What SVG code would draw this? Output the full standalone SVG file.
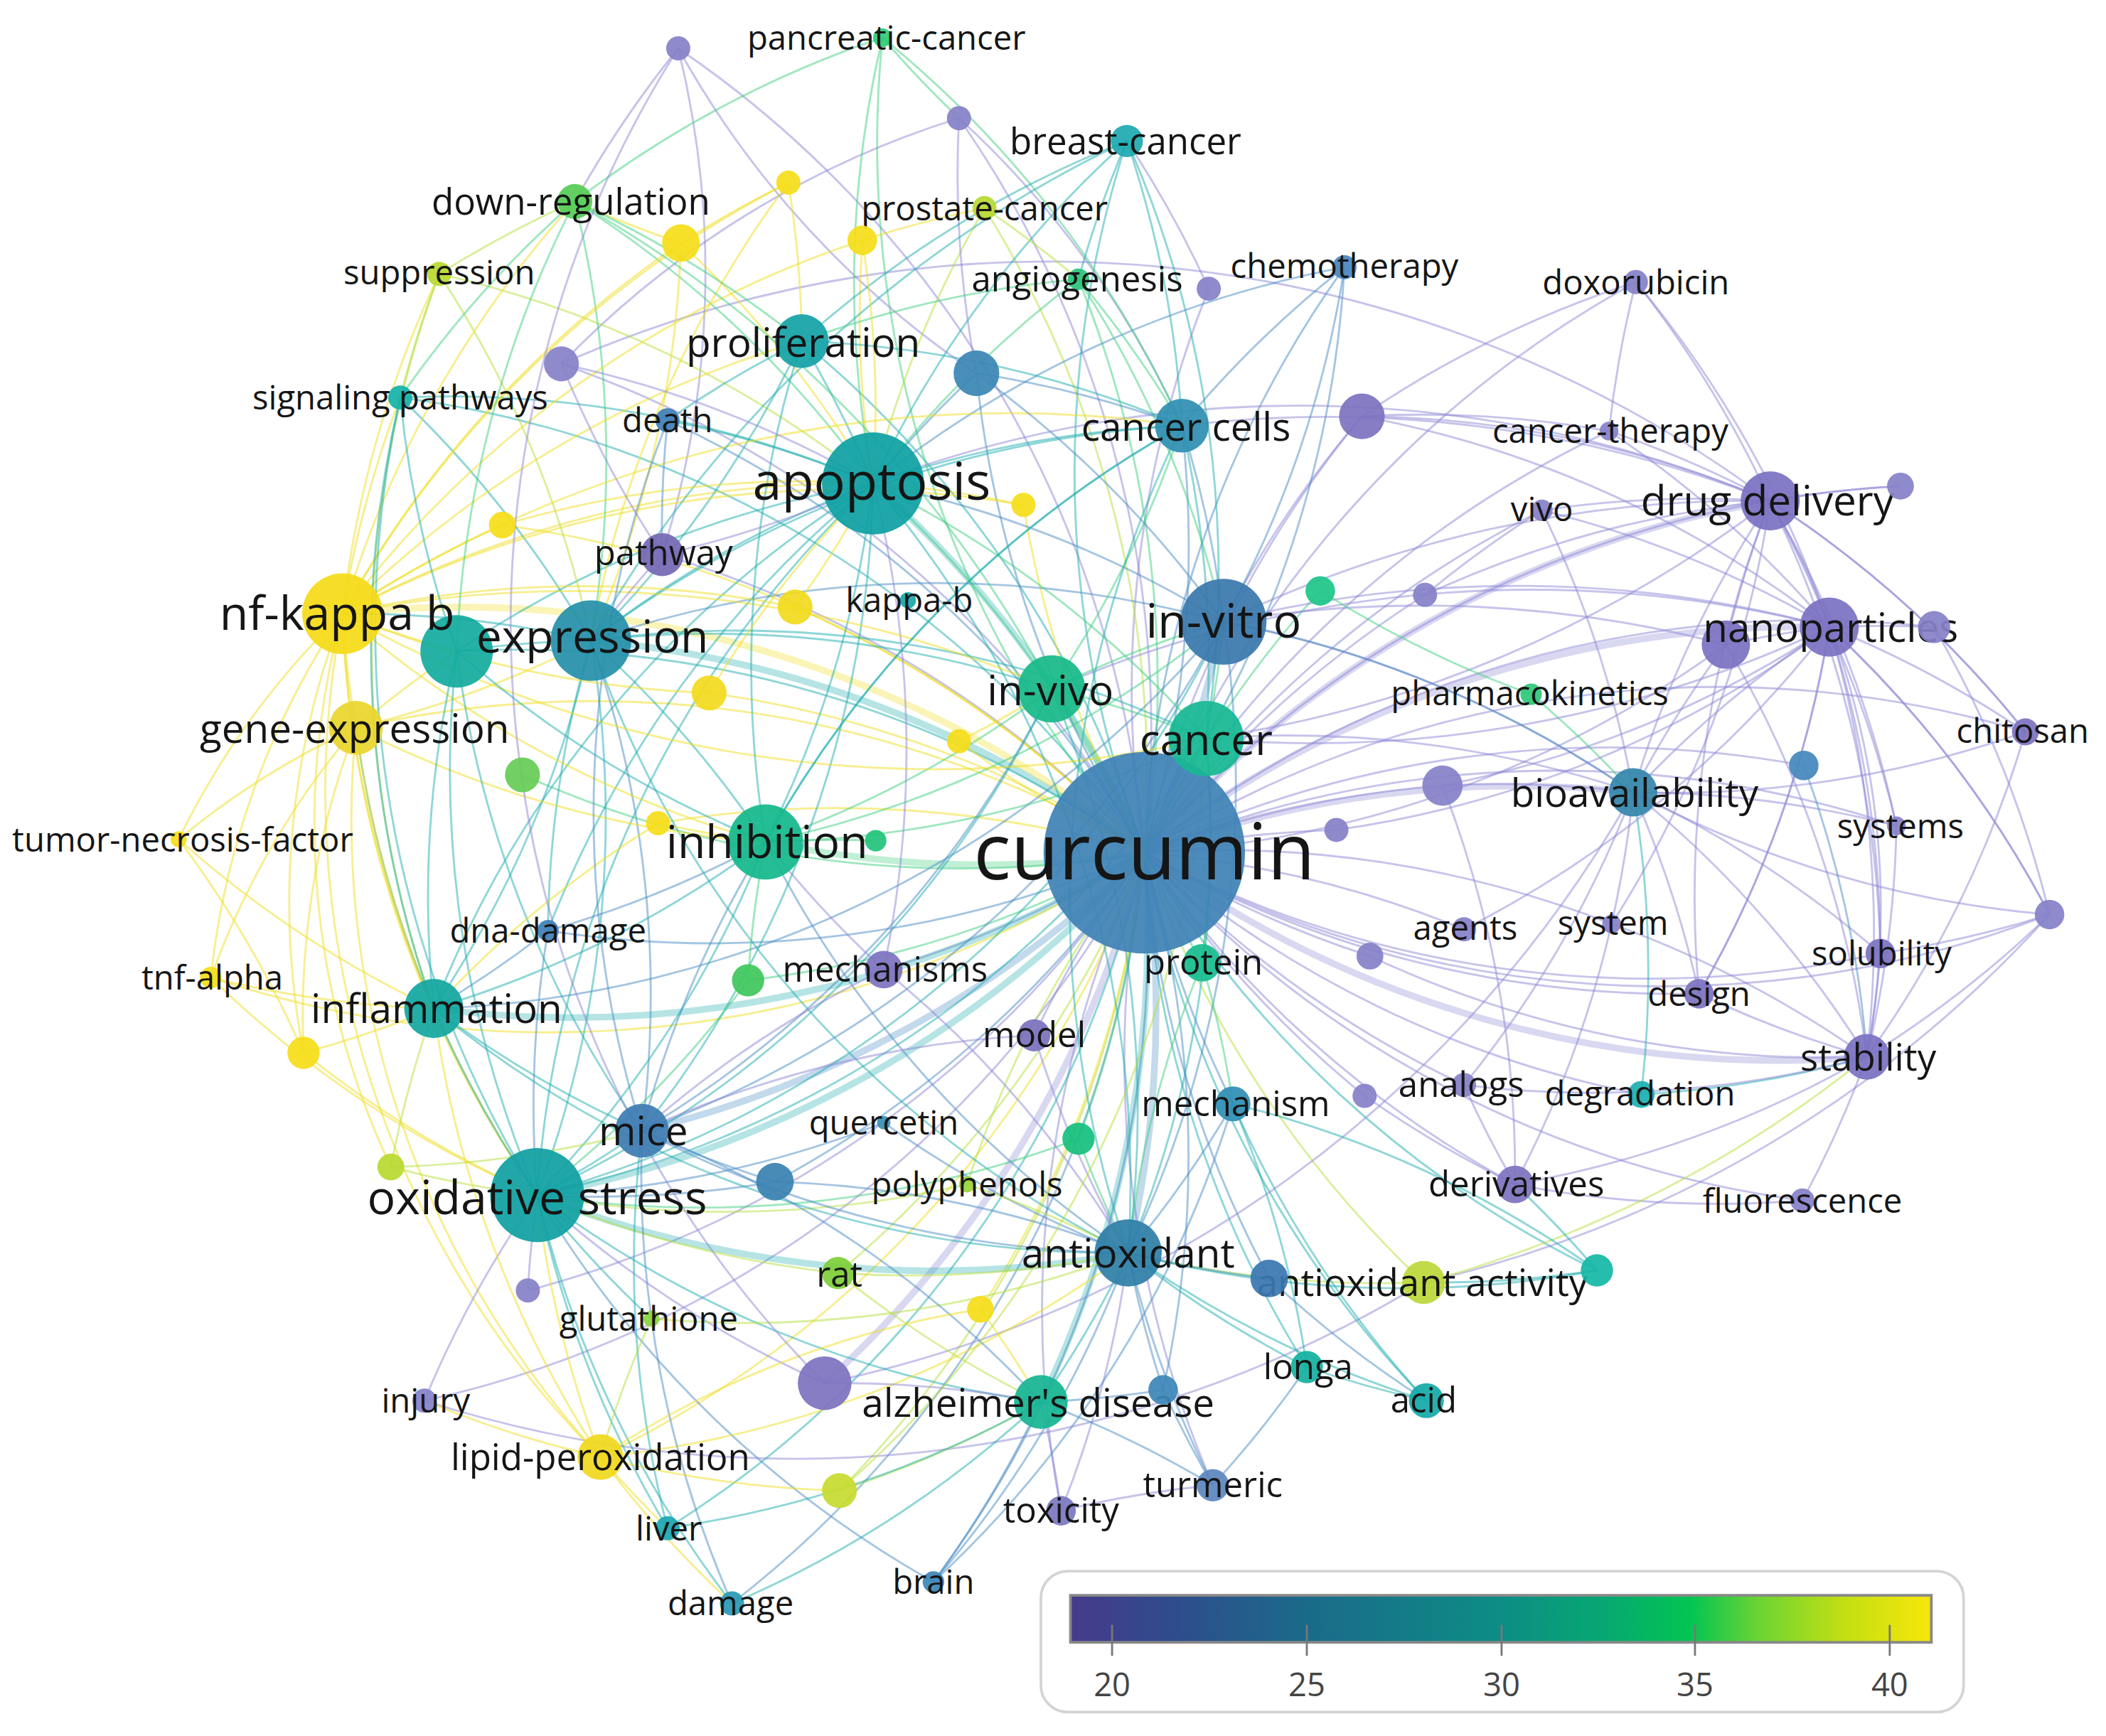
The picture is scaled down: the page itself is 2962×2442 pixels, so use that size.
<svg xmlns="http://www.w3.org/2000/svg" width="2962" height="2442" viewBox="0 0 2962 2442">
<style>
#connectors path{fill:none;stroke-width:1.5;stroke-opacity:.5}
#connectors .p{stroke:#8d88d6}
#connectors .b{stroke:#4a8cc4}
#connectors .t{stroke:#20aeb0}
#connectors .g{stroke:#3fcf80}
#connectors .y{stroke:#f0dd20}
#connectors .l{stroke:#b5df3c}
#connectors .k{stroke-width:5;stroke-opacity:.33}
#nodes circle{fill-opacity:.93}
#nodes text{font-family:"Open Sans","Noto Sans","Liberation Sans",sans-serif;fill:#151515;text-anchor:middle}
#legend text{font-family:"Open Sans","Noto Sans","Liberation Sans",sans-serif;fill:#444;text-anchor:middle;font-size:24px}
</style>
<defs>
<linearGradient id="lg" x1="0" x2="1" y1="0" y2="0">
<stop offset="0" stop-color="#463a8c"/>
<stop offset=".12" stop-color="#2f4c8c"/>
<stop offset=".27" stop-color="#1b6a8a"/>
<stop offset=".5" stop-color="#0c8d85"/>
<stop offset=".62" stop-color="#07a872"/>
<stop offset=".72" stop-color="#02c552"/>
<stop offset=".8" stop-color="#6cd433"/>
<stop offset=".9" stop-color="#c4df12"/>
<stop offset="1" stop-color="#f8e60a"/>
</linearGradient>
</defs>
<rect width="2962" height="2442" fill="#fff"/>
<g transform="scale(1.889)">
<g id="connectors">
<path class="p k" d="M852 635A800 800 0 0 1 1318 373"/>
<path class="p k" d="M852 635A800 800 0 0 1 1362 467"/>
<path class="p" d="M852 635A800 800 0 0 0 1285 480"/>
<path class="p k" d="M852 635A800 800 0 0 1 1216 590"/>
<path class="p" d="M852 635A800 800 0 0 1 1412 615"/>
<path class="p" d="M852 635A800 800 0 0 0 1400 710"/>
<path class="p k" d="M852 635A800 800 0 0 0 1390 787"/>
<path class="p" d="M852 635A800 800 0 0 0 1265 740"/>
<path class="p" d="M852 635A800 800 0 0 1 1508 545"/>
<path class="p" d="M852 635A800 800 0 0 0 1526 681"/>
<path class="p" d="M852 635A800 800 0 0 0 1128 882"/>
<path class="p" d="M852 635A800 800 0 0 0 1342 894"/>
<path class="p" d="M852 635A800 800 0 0 0 1222 815"/>
<path class="p" d="M852 635A800 800 0 0 0 1090 808"/>
<path class="p" d="M852 635A800 800 0 0 1 1090 692"/>
<path class="p" d="M852 635A800 800 0 0 1 1200 688"/>
<path class="p" d="M852 635A800 800 0 0 1 1218 210"/>
<path class="p" d="M852 635A800 800 0 0 1 1198 321"/>
<path class="p" d="M852 635A800 800 0 0 1 1148 380"/>
<path class="p" d="M852 635A800 800 0 0 1 1014 310"/>
<path class="p" d="M852 635A800 800 0 0 1 1415 362"/>
<path class="p" d="M852 635A800 800 0 0 1 1440 467"/>
<path class="p" d="M852 635A800 800 0 0 1 1074 585"/>
<path class="p" d="M852 635A800 800 0 0 1 1343 570"/>
<path class="p" d="M852 635A800 800 0 0 1 995 618"/>
<path class="p" d="M852 635A800 800 0 0 0 1020 712"/>
<path class="p" d="M852 635A800 800 0 0 0 1016 816"/>
<path class="p" d="M852 635A800 800 0 0 1 1061 443"/>
<path class="p" d="M852 635A800 800 0 0 1 658 722"/>
<path class="p" d="M852 635A800 800 0 0 0 770 771"/>
<path class="p k" d="M852 635A800 800 0 0 1 614 1030"/>
<path class="p" d="M852 635A800 800 0 0 0 790 1125"/>
<path class="p" d="M852 635A800 800 0 0 0 903 1106"/>
<path class="p" d="M852 635A800 800 0 0 1 316 1043"/>
<path class="p" d="M852 635A800 800 0 0 1 393 961"/>
<path class="p" d="M852 635A800 800 0 0 0 493 413"/>
<path class="p" d="M852 635A800 800 0 0 0 418 271"/>
<path class="p" d="M852 635A800 800 0 0 1 900 215"/>
<path class="p" d="M852 635A800 800 0 0 0 714 88"/>
<path class="p" d="M852 635A800 800 0 0 0 505 36"/>
<path class="t k" d="M852 635A800 800 0 0 0 650 360"/>
<path class="t k" d="M852 635A800 800 0 0 1 400 890"/>
<path class="b k" d="M852 635A800 800 0 0 0 911 463"/>
<path class="t k" d="M852 635A800 800 0 0 0 440 477"/>
<path class="g k" d="M852 635A800 800 0 0 1 570 627"/>
<path class="g k" d="M852 635A800 800 0 0 0 898 550"/>
<path class="g k" d="M852 635A800 800 0 0 0 783 513"/>
<path class="b k" d="M852 635A800 800 0 0 1 840 933"/>
<path class="b k" d="M852 635A800 800 0 0 1 478 842"/>
<path class="t k" d="M852 635A800 800 0 0 1 323 751"/>
<path class="t k" d="M852 635A800 800 0 0 1 775 1044"/>
<path class="y k" d="M852 635A800 800 0 0 0 255 457"/>
<path class="b" d="M852 635A800 800 0 0 0 918 822"/>
<path class="g" d="M852 635A800 800 0 0 0 895 717"/>
<path class="b" d="M852 635A800 800 0 0 0 880 317"/>
<path class="t" d="M852 635A800 800 0 0 0 597 254"/>
<path class="b" d="M852 635A800 800 0 0 1 727 278"/>
<path class="b" d="M852 635A800 800 0 0 0 497 313"/>
<path class="t" d="M852 635A800 800 0 0 1 839 105"/>
<path class="b" d="M852 635A800 800 0 0 1 1001 199"/>
<path class="t" d="M852 635A800 800 0 0 0 973 1018"/>
<path class="t" d="M852 635A800 800 0 0 0 1062 1043"/>
<path class="b" d="M852 635A800 800 0 0 0 945 952"/>
<path class="b" d="M852 635A800 800 0 0 1 866 1035"/>
<path class="b" d="M852 635A800 800 0 0 1 695 1178"/>
<path class="b" d="M852 635A800 800 0 0 1 545 1194"/>
<path class="t" d="M852 635A800 800 0 0 1 497 1138"/>
<path class="b" d="M852 635A800 800 0 0 1 577 880"/>
<path class="t" d="M852 635A800 800 0 0 0 340 485"/>
<path class="t" d="M852 635A800 800 0 0 0 298 296"/>
<path class="b" d="M852 635A800 800 0 0 1 408 693"/>
<path class="g" d="M852 635A800 800 0 0 1 983 440"/>
<path class="t" d="M852 635A800 800 0 0 0 1189 946"/>
<path class="g" d="M852 635A800 800 0 0 1 803 848"/>
<path class="l" d="M852 635A800 800 0 0 1 624 948"/>
<path class="g" d="M852 635A800 800 0 0 0 803 208"/>
<path class="g" d="M852 635A800 800 0 0 1 657 28"/>
<path class="y" d="M852 635A800 800 0 0 0 265 542"/>
<path class="y" d="M852 635A800 800 0 0 0 528 516"/>
<path class="y" d="M852 635A800 800 0 0 1 714 552"/>
<path class="y" d="M852 635A800 800 0 0 1 762 376"/>
<path class="y" d="M852 635A800 800 0 0 0 592 452"/>
<path class="y" d="M852 635A800 800 0 0 1 447 1085"/>
<path class="l" d="M852 635A800 800 0 0 0 1060 955"/>
<path class="l" d="M852 635A800 800 0 0 1 625 1110"/>
<path class="y" d="M852 635A800 800 0 0 1 730 975"/>
<path class="y" d="M852 635A800 800 0 0 0 490 613"/>
<path class="y" d="M852 635A800 800 0 0 0 374 391"/>
<path class="y" d="M852 635A800 800 0 0 1 157 728"/>
<path class="g" d="M852 635A800 800 0 0 1 389 577"/>
<path class="g" d="M852 635A800 800 0 0 1 557 730"/>
<path class="l" d="M852 635A800 800 0 0 0 733 155"/>
<path class="l" d="M852 635A800 800 0 0 0 720 882"/>
<path class="p" d="M1318 373A800 800 0 0 1 1362 467"/>
<path class="p" d="M1318 373A800 800 0 0 0 1285 480"/>
<path class="p" d="M1318 373A800 800 0 0 0 1218 210"/>
<path class="p" d="M1318 373A800 800 0 0 0 1198 321"/>
<path class="p" d="M1318 373A800 800 0 0 0 1148 380"/>
<path class="p" d="M1318 373A800 800 0 0 1 1415 362"/>
<path class="p" d="M1318 373A800 800 0 0 1 1508 545"/>
<path class="p" d="M1318 373A600 600 0 0 1 1390 787"/>
<path class="p" d="M1318 373A800 800 0 0 1 1400 710"/>
<path class="p" d="M1318 373A800 800 0 0 1 1412 615"/>
<path class="p" d="M1318 373A800 800 0 0 0 1216 590"/>
<path class="p" d="M1318 373A800 800 0 0 0 1014 310"/>
<path class="p" d="M1318 373A800 800 0 0 0 1265 740"/>
<path class="p" d="M1362 467A800 800 0 0 0 1285 480"/>
<path class="p" d="M1362 467A800 800 0 0 1 1508 545"/>
<path class="p" d="M1362 467A800 800 0 0 1 1390 787"/>
<path class="p" d="M1362 467A800 800 0 0 1 1400 710"/>
<path class="p" d="M1362 467A800 800 0 0 1 1412 615"/>
<path class="p" d="M1362 467A800 800 0 0 0 1216 590"/>
<path class="p" d="M1362 467A800 800 0 0 1 1440 467"/>
<path class="p" d="M1362 467A800 800 0 0 1 1526 681"/>
<path class="p" d="M1362 467A800 800 0 0 0 1218 210"/>
<path class="p" d="M1362 467A800 800 0 0 0 1148 380"/>
<path class="p" d="M1362 467A800 800 0 0 0 1198 321"/>
<path class="p" d="M1362 467A800 800 0 0 0 1014 310"/>
<path class="p" d="M1362 467A800 800 0 0 1 1265 740"/>
<path class="p" d="M1285 480A800 800 0 0 0 1216 590"/>
<path class="p" d="M1285 480A800 800 0 0 1 1390 787"/>
<path class="p" d="M1216 590A800 800 0 0 1 1390 787"/>
<path class="p" d="M1216 590A800 800 0 0 1 1400 710"/>
<path class="p" d="M1216 590A800 800 0 0 1 1265 740"/>
<path class="g" d="M1216 590A800 800 0 0 0 1140 517"/>
<path class="p" d="M1216 590A800 800 0 0 0 1074 585"/>
<path class="p" d="M1216 590A800 800 0 0 0 1148 380"/>
<path class="p" d="M1216 590A800 800 0 0 1 1128 882"/>
<path class="p" d="M1390 787A800 800 0 0 0 1400 710"/>
<path class="p" d="M1390 787A800 800 0 0 0 1526 681"/>
<path class="p" d="M1390 787A800 800 0 0 1 1265 740"/>
<path class="p" d="M1390 787A800 800 0 0 0 1412 615"/>
<path class="p" d="M1390 787A800 800 0 0 0 1508 545"/>
<path class="p" d="M1390 787A800 800 0 0 1 1342 894"/>
<path class="p" d="M1390 787A800 800 0 0 1 1128 882"/>
<path class="t" d="M1390 787A800 800 0 0 1 1222 815"/>
<path class="p" d="M1390 787A800 800 0 0 1 1090 808"/>
<path class="p" d="M1400 710A800 800 0 0 0 1526 681"/>
<path class="p" d="M1218 210A800 800 0 0 0 1014 310"/>
<path class="p" d="M1218 210A800 800 0 0 0 1198 321"/>
<path class="p" d="M1014 310A800 800 0 0 1 1198 321"/>
<path class="p" d="M1014 310A800 800 0 0 0 911 463"/>
<path class="p" d="M1148 380A800 800 0 0 0 1061 443"/>
<path class="p" d="M1128 882A800 800 0 0 0 1342 894"/>
<path class="p" d="M1128 882A800 800 0 0 1 1090 808"/>
<path class="p" d="M1128 882A800 800 0 0 1 1016 816"/>
<path class="p" d="M1440 467A800 800 0 0 1 1526 681"/>
<path class="p" d="M1318 373A900 900 0 0 0 650 360"/>
<path class="p" d="M1362 467A900 900 0 0 0 911 463"/>
<path class="p" d="M1362 467A900 900 0 0 1 898 550"/>
<path class="p" d="M1318 373A900 900 0 0 0 880 317"/>
<path class="p" d="M1526 681A900 900 0 0 1 1060 955"/>
<path class="p" d="M316 1043A900 900 0 0 0 1060 955"/>
<path class="p" d="M614 1030A900 900 0 0 0 1216 590"/>
<path class="p" d="M418 271A900 900 0 0 1 1318 373"/>
<path class="p" d="M505 36A700 700 0 0 1 493 413"/>
<path class="p" d="M505 36A700 700 0 0 0 727 278"/>
<path class="p" d="M714 88A700 700 0 0 0 418 271"/>
<path class="p" d="M714 88A700 700 0 0 1 880 317"/>
<path class="p" d="M1318 373A900 900 0 0 0 911 463"/>
<path class="p" d="M1318 373A900 900 0 0 1 898 550"/>
<path class="p" d="M1362 467A900 900 0 0 0 783 513"/>
<path class="p" d="M1285 480A900 900 0 0 0 911 463"/>
<path class="p" d="M1216 590A800 800 0 0 0 911 463"/>
<path class="p" d="M1216 590A800 800 0 0 0 898 550"/>
<path class="p" d="M1412 615A800 800 0 0 0 1216 590"/>
<path class="p" d="M1508 545A800 800 0 0 0 1318 373"/>
<path class="p" d="M1508 545A800 800 0 0 1 1216 590"/>
<path class="p" d="M1526 681A800 800 0 0 0 1362 467"/>
<path class="p" d="M1526 681A800 800 0 0 1 1216 590"/>
<path class="p" d="M1265 740A800 800 0 0 0 1362 467"/>
<path class="t" d="M1222 815A800 800 0 0 0 1216 590"/>
<path class="p" d="M1090 808A800 800 0 0 0 1216 590"/>
<path class="p" d="M1074 585A800 800 0 0 0 1362 467"/>
<path class="p" d="M1061 443A800 800 0 0 1 1318 373"/>
<path class="p" d="M1020 712A800 800 0 0 0 1390 787"/>
<path class="p" d="M995 618A800 800 0 0 0 1362 467"/>
<path class="p" d="M1090 692A800 800 0 0 0 1362 467"/>
<path class="p" d="M1200 688A800 800 0 0 0 1318 373"/>
<path class="p" d="M1200 688A800 800 0 0 1 1390 787"/>
<path class="b" d="M911 463A800 800 0 0 0 650 360"/>
<path class="g" d="M911 463A800 800 0 0 1 898 550"/>
<path class="g" d="M911 463A800 800 0 0 0 783 513"/>
<path class="b" d="M911 463A800 800 0 0 0 880 317"/>
<path class="b" d="M911 463A800 800 0 0 0 440 477"/>
<path class="g" d="M911 463A800 800 0 0 1 570 627"/>
<path class="t" d="M911 463A800 800 0 0 1 400 890"/>
<path class="b" d="M911 463A800 800 0 0 1 1216 590"/>
<path class="b" d="M911 463A800 800 0 0 1 840 933"/>
<path class="b" d="M911 463A800 800 0 0 1 478 842"/>
<path class="b" d="M911 463A800 800 0 0 1 323 751"/>
<path class="g" d="M898 550A800 800 0 0 0 650 360"/>
<path class="g" d="M898 550A800 800 0 0 0 783 513"/>
<path class="t" d="M898 550A800 800 0 0 0 880 317"/>
<path class="t" d="M898 550A800 800 0 0 0 440 477"/>
<path class="g" d="M898 550A800 800 0 0 1 570 627"/>
<path class="t" d="M898 550A800 800 0 0 0 839 105"/>
<path class="g" d="M898 550A800 800 0 0 1 895 717"/>
<path class="b" d="M898 550A800 800 0 0 0 1001 199"/>
<path class="t" d="M898 550A800 800 0 0 1 840 933"/>
<path class="t" d="M898 550A800 800 0 0 1 400 890"/>
<path class="g" d="M783 513A800 800 0 0 0 650 360"/>
<path class="t" d="M783 513A800 800 0 0 0 440 477"/>
<path class="g" d="M783 513A800 800 0 0 1 570 627"/>
<path class="b" d="M783 513A800 800 0 0 1 478 842"/>
<path class="t" d="M783 513A800 800 0 0 1 400 890"/>
<path class="g" d="M783 513A800 800 0 0 0 880 317"/>
<path class="t" d="M783 513A800 800 0 0 1 840 933"/>
<path class="t" d="M650 360A800 800 0 0 0 440 477"/>
<path class="t" d="M650 360A800 800 0 0 1 570 627"/>
<path class="t" d="M650 360A800 800 0 0 0 597 254"/>
<path class="t" d="M650 360A800 800 0 0 1 880 317"/>
<path class="y" d="M650 360A800 800 0 0 0 255 457"/>
<path class="t" d="M650 360A800 800 0 0 0 340 485"/>
<path class="t" d="M650 360A800 800 0 0 0 497 313"/>
<path class="p" d="M650 360A800 800 0 0 1 493 413"/>
<path class="t" d="M650 360A800 800 0 0 0 298 296"/>
<path class="g" d="M650 360A800 800 0 0 0 428 150"/>
<path class="t" d="M650 360A800 800 0 0 1 839 105"/>
<path class="g" d="M650 360A800 800 0 0 1 803 208"/>
<path class="b" d="M650 360A800 800 0 0 1 727 278"/>
<path class="t" d="M650 360A800 800 0 0 0 400 890"/>
<path class="t" d="M650 360A800 800 0 0 1 478 842"/>
<path class="t" d="M650 360A800 800 0 0 0 323 751"/>
<path class="p" d="M650 360A800 800 0 0 1 658 722"/>
<path class="l" d="M650 360A800 800 0 0 1 733 155"/>
<path class="g" d="M650 360A800 800 0 0 1 657 28"/>
<path class="b" d="M650 360A800 800 0 0 1 1001 199"/>
<path class="y" d="M650 360A800 800 0 0 0 507 181"/>
<path class="y" d="M650 360A800 800 0 0 1 642 179"/>
<path class="l" d="M650 360A800 800 0 0 0 327 204"/>
<path class="t" d="M650 360A800 800 0 0 1 840 933"/>
<path class="t" d="M650 360A800 800 0 0 0 408 693"/>
<path class="t" d="M440 477A800 800 0 0 0 255 457"/>
<path class="t" d="M440 477A800 800 0 0 0 340 485"/>
<path class="y" d="M440 477A800 800 0 0 1 265 542"/>
<path class="t" d="M440 477A800 800 0 0 1 570 627"/>
<path class="t" d="M440 477A800 800 0 0 1 323 751"/>
<path class="t" d="M440 477A800 800 0 0 1 400 890"/>
<path class="t" d="M440 477A800 800 0 0 0 597 254"/>
<path class="g" d="M440 477A800 800 0 0 0 428 150"/>
<path class="l" d="M440 477A800 800 0 0 0 327 204"/>
<path class="t" d="M440 477A800 800 0 0 0 298 296"/>
<path class="b" d="M440 477A800 800 0 0 1 478 842"/>
<path class="t" d="M440 477A800 800 0 0 1 880 317"/>
<path class="y" d="M440 477A800 800 0 0 0 507 181"/>
<path class="y" d="M440 477A800 800 0 0 1 587 136"/>
<path class="t" d="M440 477A800 800 0 0 0 408 693"/>
<path class="t" d="M440 477A800 800 0 0 0 840 933"/>
<path class="y" d="M255 457A800 800 0 0 0 265 542"/>
<path class="y" d="M255 457A600 600 0 0 0 133 625"/>
<path class="y" d="M255 457A600 600 0 0 0 157 728"/>
<path class="y" d="M255 457A800 800 0 0 0 340 485"/>
<path class="y" d="M255 457A800 800 0 0 0 323 751"/>
<path class="y" d="M255 457A800 800 0 0 1 327 204"/>
<path class="y" d="M255 457A800 800 0 0 1 428 150"/>
<path class="y" d="M255 457A800 800 0 0 1 298 296"/>
<path class="y" d="M255 457A800 800 0 0 1 507 181"/>
<path class="y" d="M255 457A800 800 0 0 1 587 136"/>
<path class="y" d="M255 457A800 800 0 0 1 642 179"/>
<path class="y" d="M255 457A800 800 0 0 1 374 391"/>
<path class="y" d="M255 457A800 800 0 0 0 528 516"/>
<path class="y" d="M255 457A800 800 0 0 1 592 452"/>
<path class="y" d="M255 457A800 800 0 0 0 570 627"/>
<path class="y" d="M255 457A800 800 0 0 0 400 890"/>
<path class="y" d="M255 457A600 600 0 0 0 226 784"/>
<path class="y" d="M255 457A600 600 0 0 0 291 869"/>
<path class="y" d="M255 457A700 700 0 0 0 447 1085"/>
<path class="y" d="M255 457A800 800 0 0 1 597 254"/>
<path class="y" d="M255 457A800 800 0 0 1 762 376"/>
<path class="y" d="M255 457A900 900 0 0 1 880 317"/>
<path class="y" d="M255 457A900 900 0 0 1 783 513"/>
<path class="y" d="M255 457A900 900 0 0 0 898 550"/>
<path class="y" d="M265 542A600 600 0 0 0 133 625"/>
<path class="y" d="M265 542A600 600 0 0 0 157 728"/>
<path class="y" d="M265 542A600 600 0 0 0 226 784"/>
<path class="t" d="M265 542A800 800 0 0 0 323 751"/>
<path class="y" d="M265 542A800 800 0 0 1 340 485"/>
<path class="y" d="M265 542A700 700 0 0 0 447 1085"/>
<path class="y" d="M265 542A800 800 0 0 0 570 627"/>
<path class="y" d="M265 542A800 800 0 0 0 400 890"/>
<path class="y" d="M157 728A800 800 0 0 0 400 890"/>
<path class="y" d="M133 625A800 800 0 0 0 323 751"/>
<path class="t" d="M340 485A800 800 0 0 0 323 751"/>
<path class="t" d="M340 485A800 800 0 0 0 400 890"/>
<path class="t" d="M340 485A800 800 0 0 0 570 627"/>
<path class="t" d="M340 485A800 800 0 0 1 298 296"/>
<path class="g" d="M340 485A800 800 0 0 1 428 150"/>
<path class="t" d="M340 485A800 800 0 0 0 478 842"/>
<path class="t" d="M400 890A800 800 0 0 1 323 751"/>
<path class="t" d="M400 890A800 800 0 0 0 478 842"/>
<path class="t" d="M400 890A800 800 0 0 0 570 627"/>
<path class="t k" d="M400 890A800 800 0 0 0 840 933"/>
<path class="y" d="M400 890A800 800 0 0 0 447 1085"/>
<path class="t" d="M400 890A800 800 0 0 0 485 982"/>
<path class="p" d="M400 890A800 800 0 0 0 316 1043"/>
<path class="p" d="M400 890A800 800 0 0 0 393 961"/>
<path class="t" d="M400 890A800 800 0 0 0 497 1138"/>
<path class="t" d="M400 890A800 800 0 0 0 545 1194"/>
<path class="l" d="M400 890A800 800 0 0 0 624 948"/>
<path class="b" d="M400 890A800 800 0 0 0 577 880"/>
<path class="t" d="M400 890A800 800 0 0 0 775 1044"/>
<path class="l" d="M400 890A800 800 0 0 1 291 869"/>
<path class="y" d="M400 890A800 800 0 0 1 226 784"/>
<path class="b" d="M400 890A800 800 0 0 1 408 693"/>
<path class="p" d="M400 890A800 800 0 0 0 614 1030"/>
<path class="b" d="M400 890A800 800 0 0 0 695 1178"/>
<path class="g" d="M400 890A800 800 0 0 0 557 730"/>
<path class="b" d="M400 890A800 800 0 0 0 658 836"/>
<path class="l" d="M400 890A800 800 0 0 0 720 882"/>
<path class="g" d="M400 890A800 800 0 0 0 803 848"/>
<path class="t" d="M323 751A800 800 0 0 0 478 842"/>
<path class="t" d="M323 751A800 800 0 0 0 570 627"/>
<path class="b" d="M323 751A800 800 0 0 0 408 693"/>
<path class="y" d="M323 751A800 800 0 0 1 226 784"/>
<path class="y" d="M323 751A800 800 0 0 1 157 728"/>
<path class="l" d="M323 751A800 800 0 0 0 291 869"/>
<path class="y" d="M323 751A800 800 0 0 0 447 1085"/>
<path class="t" d="M323 751A800 800 0 0 0 840 933"/>
<path class="y" d="M323 751A800 800 0 0 1 490 613"/>
<path class="p" d="M570 627A800 800 0 0 0 658 722"/>
<path class="g" d="M570 627A800 800 0 0 0 557 730"/>
<path class="b" d="M570 627A800 800 0 0 0 478 842"/>
<path class="y" d="M570 627A800 800 0 0 1 490 613"/>
<path class="g" d="M570 627A800 800 0 0 1 652 626"/>
<path class="t" d="M570 627A800 800 0 0 1 597 254"/>
<path class="b" d="M570 627A800 800 0 0 0 840 933"/>
<path class="b" d="M570 627A800 800 0 0 1 408 693"/>
<path class="t" d="M570 627A800 800 0 0 1 880 317"/>
<path class="l" d="M840 933A800 800 0 0 0 1060 955"/>
<path class="b" d="M840 933A800 800 0 0 0 945 952"/>
<path class="t" d="M840 933A800 800 0 0 0 973 1018"/>
<path class="t" d="M840 933A800 800 0 0 0 1062 1043"/>
<path class="b" d="M840 933A800 800 0 0 0 903 1106"/>
<path class="p" d="M840 933A800 800 0 0 1 790 1125"/>
<path class="t" d="M840 933A800 800 0 0 1 775 1044"/>
<path class="l" d="M840 933A800 800 0 0 1 624 948"/>
<path class="b" d="M840 933A800 800 0 0 0 918 822"/>
<path class="b" d="M840 933A800 800 0 0 0 866 1035"/>
<path class="t" d="M840 933A800 800 0 0 0 1189 946"/>
<path class="y" d="M840 933A800 800 0 0 1 447 1085"/>
<path class="b" d="M840 933A800 800 0 0 1 478 842"/>
<path class="g" d="M840 933A800 800 0 0 1 895 717"/>
<path class="p" d="M840 933A800 800 0 0 1 770 771"/>
<path class="p" d="M840 933A800 800 0 0 0 658 722"/>
<path class="b" d="M840 933A800 800 0 0 1 658 836"/>
<path class="l" d="M840 933A800 800 0 0 0 720 882"/>
<path class="g" d="M840 933A800 800 0 0 1 803 848"/>
<path class="b" d="M840 933A800 800 0 0 0 577 880"/>
<path class="l" d="M840 933A800 800 0 0 1 485 982"/>
<path class="b" d="M840 933A800 800 0 0 1 695 1178"/>
<path class="p" d="M775 1044A800 800 0 0 0 614 1030"/>
<path class="b" d="M775 1044A800 800 0 0 0 866 1035"/>
<path class="p" d="M775 1044A800 800 0 0 1 790 1125"/>
<path class="b" d="M775 1044A800 800 0 0 1 695 1178"/>
<path class="l" d="M775 1044A800 800 0 0 1 624 948"/>
<path class="l" d="M775 1044A800 800 0 0 1 625 1110"/>
<path class="y" d="M775 1044A800 800 0 0 0 730 975"/>
<path class="b" d="M775 1044A800 800 0 0 0 478 842"/>
<path class="t" d="M775 1044A800 800 0 0 1 497 1138"/>
<path class="t" d="M775 1044A800 800 0 0 1 545 1194"/>
<path class="b" d="M775 1044A800 800 0 0 1 903 1106"/>
<path class="l" d="M428 150A800 800 0 0 0 327 204"/>
<path class="y" d="M428 150A800 800 0 0 0 507 181"/>
<path class="p" d="M428 150A800 800 0 0 1 505 36"/>
<path class="g" d="M428 150A800 800 0 0 1 657 28"/>
<path class="g" d="M428 150A800 800 0 0 0 298 296"/>
<path class="g" d="M428 150A800 800 0 0 1 597 254"/>
<path class="g" d="M428 150A900 900 0 0 1 783 513"/>
<path class="l" d="M327 204A800 800 0 0 0 298 296"/>
<path class="l" d="M327 204A800 800 0 0 0 323 751"/>
<path class="g" d="M657 28A800 800 0 0 0 714 88"/>
<path class="g" d="M657 28A800 800 0 0 1 880 317"/>
<path class="p" d="M714 88A800 800 0 0 0 727 278"/>
<path class="t" d="M839 105A800 800 0 0 1 880 317"/>
<path class="t" d="M839 105A800 800 0 0 0 803 208"/>
<path class="t" d="M839 105A800 800 0 0 0 597 254"/>
<path class="p" d="M839 105A800 800 0 0 1 900 215"/>
<path class="t" d="M839 105A900 900 0 0 0 440 477"/>
<path class="l" d="M733 155A800 800 0 0 1 803 208"/>
<path class="y" d="M733 155A800 800 0 0 0 642 179"/>
<path class="g" d="M803 208A800 800 0 0 1 880 317"/>
<path class="g" d="M803 208A800 800 0 0 1 911 463"/>
<path class="g" d="M803 208A800 800 0 0 0 597 254"/>
<path class="b" d="M1001 199A800 800 0 0 1 911 463"/>
<path class="b" d="M1001 199A800 800 0 0 0 880 317"/>
<path class="y" d="M587 136A800 800 0 0 1 597 254"/>
<path class="y" d="M642 179A800 800 0 0 1 650 360"/>
<path class="y" d="M587 136A800 800 0 0 0 507 181"/>
<path class="y" d="M528 516A800 800 0 0 1 650 360"/>
<path class="y" d="M592 452A800 800 0 0 0 650 360"/>
<path class="y" d="M714 552A800 800 0 0 0 783 513"/>
<path class="y" d="M762 376A800 800 0 0 0 650 360"/>
<path class="y" d="M374 391A800 800 0 0 1 650 360"/>
<path class="b" d="M727 278A800 800 0 0 1 880 317"/>
<path class="b" d="M727 278A800 800 0 0 1 911 463"/>
<path class="t" d="M597 254A800 800 0 0 1 880 317"/>
<path class="t" d="M597 254A800 800 0 0 0 497 313"/>
<path class="b" d="M497 313A800 800 0 0 0 493 413"/>
<path class="p" d="M493 413A800 800 0 0 0 440 477"/>
<path class="p" d="M418 271A800 800 0 0 1 650 360"/>
<path class="p" d="M418 271A800 800 0 0 0 493 413"/>
<path class="b" d="M478 842A800 800 0 0 0 545 1194"/>
<path class="t" d="M478 842A800 800 0 0 0 497 1138"/>
<path class="b" d="M478 842A800 800 0 0 0 577 880"/>
<path class="p" d="M478 842A800 800 0 0 1 658 722"/>
<path class="p" d="M478 842A800 800 0 0 1 770 771"/>
<path class="y" d="M447 1085A800 800 0 0 1 316 1043"/>
<path class="y" d="M447 1085A800 800 0 0 0 497 1138"/>
<path class="y" d="M447 1085A800 800 0 0 0 625 1110"/>
<path class="y" d="M447 1085A800 800 0 0 0 545 1194"/>
<path class="y" d="M447 1085A700 700 0 0 1 730 975"/>
<path class="l" d="M447 1085A800 800 0 0 1 485 982"/>
<path class="l" d="M1060 955A900 900 0 0 0 1390 787"/>
<path class="t" d="M1060 955A800 800 0 0 0 1189 946"/>
<path class="t" d="M1189 946A800 800 0 0 0 1128 882"/>
<path class="t" d="M1189 946A800 800 0 0 0 918 822"/>
<path class="t" d="M973 1018A800 800 0 0 0 1062 1043"/>
<path class="b" d="M973 1018A800 800 0 0 1 903 1106"/>
<path class="t" d="M918 822A800 800 0 0 0 1062 1043"/>
<path class="t" d="M918 822A800 800 0 0 1 973 1018"/>
<path class="g" d="M918 822A800 800 0 0 0 895 717"/>
<path class="g" d="M895 717A800 800 0 0 0 898 550"/>
<path class="b" d="M945 952A800 800 0 0 0 1062 1043"/>
<path class="p" d="M790 1125A800 800 0 0 1 903 1106"/>
<path class="b" d="M866 1035A800 800 0 0 0 903 1106"/>
<path class="l" d="M625 1110A800 800 0 0 0 898 550"/>
<path class="p" d="M614 1030A800 800 0 0 1 505 36"/>
<path class="y" d="M226 784A800 800 0 0 0 133 625"/>
<path class="l" d="M291 869A800 800 0 0 0 478 842"/>
<path class="t" d="M298 296A800 800 0 0 0 400 890"/>
<path class="t" d="M298 296A800 800 0 0 0 323 751"/>
<path class="b" d="M497 313A800 800 0 0 0 478 842"/>
<path class="t" d="M880 317A800 800 0 0 0 570 627"/>
<path class="t" d="M880 317A800 800 0 0 0 840 933"/>
<path class="g" d="M983 440A800 800 0 0 0 1140 517"/>
<path class="b" d="M1343 570A800 800 0 0 1 1390 787"/>
<path class="p" d="M1074 585A800 800 0 0 1 1128 882"/>
<path class="b" d="M918 822A800 800 0 0 1 695 1178"/>
</g>
<g id="nodes">
<g id="n-curcumin"><circle cx="852" cy="635" r="75" fill="#3f82b6"/><text x="852" y="655" font-size="58">curcumin</text></g>
<g id="n-apoptosis"><circle cx="650" cy="360" r="38" fill="#0fa0a4"/><text x="649" y="372" font-size="39">apoptosis</text></g>
<g id="n-teal-1"><circle cx="340" cy="485" r="27" fill="#14ab9e"/></g>
<g id="n-expression"><circle cx="440" cy="477" r="30" fill="#2690aa"/><text x="441" y="486" font-size="34">expression</text></g>
<g id="n-nf-kappa-b"><circle cx="255" cy="457" r="30" fill="#f5da18"/><text x="251" y="469" font-size="35">nf-kappa b</text></g>
<g id="n-in-vitro"><circle cx="911" cy="463" r="32" fill="#3a78ac"/><text x="911" y="475" font-size="35">in-vitro</text></g>
<g id="n-oxidative-stress"><circle cx="400" cy="890" r="35" fill="#11a0a3"/><text x="400" y="904" font-size="35">oxidative stress</text></g>
<g id="n-inhibition"><circle cx="570" cy="627" r="28" fill="#14b88c"/><text x="571" y="639" font-size="34">inhibition</text></g>
<g id="n-cancer"><circle cx="898" cy="550" r="28" fill="#17b893"/><text x="898" y="562" font-size="32">cancer</text></g>
<g id="n-in-vivo"><circle cx="783" cy="513" r="25" fill="#18b98a"/><text x="782" y="525" font-size="31">in-vivo</text></g>
<g id="n-gene-expression"><circle cx="265" cy="542" r="20" fill="#ead52c"/><text x="264" y="553" font-size="30">gene-expression</text></g>
<g id="n-inflammation"><circle cx="323" cy="751" r="22" fill="#13a7a0"/><text x="325" y="762" font-size="30">inflammation</text></g>
<g id="n-proliferation"><circle cx="597" cy="254" r="20" fill="#15a2a7"/><text x="598" y="266" font-size="30">proliferation</text></g>
<g id="n-cancer-cells"><circle cx="880" cy="317" r="20" fill="#2f8fb1"/><text x="883" y="328" font-size="29">cancer cells</text></g>
<g id="n-drug-delivery"><circle cx="1318" cy="373" r="22" fill="#7b72c2"/><text x="1316" y="384" font-size="31">drug delivery</text></g>
<g id="n-purple-1285"><circle cx="1285" cy="480" r="18" fill="#7b72c2"/></g>
<g id="n-nanoparticles"><circle cx="1362" cy="467" r="22" fill="#7b72c2"/><text x="1363" y="478" font-size="30">nanoparticles</text></g>
<g id="n-bioavailability"><circle cx="1216" cy="590" r="18" fill="#3586ac"/><text x="1217" y="601" font-size="29">bioavailability</text></g>
<g id="n-mice"><circle cx="478" cy="842" r="20" fill="#3d7cb3"/><text x="479" y="853" font-size="30">mice</text></g>
<g id="n-antioxidant"><circle cx="840" cy="933" r="25" fill="#2f7fa8"/><text x="840" y="944" font-size="30">antioxidant</text></g>
<g id="n-alzheimers-disease"><circle cx="775" cy="1044" r="20" fill="#17b592"/><text x="773" y="1055" font-size="29">alzheimer's disease</text></g>
<g id="n-stability"><circle cx="1390" cy="787" r="17" fill="#7b72c2"/><text x="1391" y="797" font-size="28">stability</text></g>
<g id="n-antioxidant-activity"><circle cx="1060" cy="955" r="16" fill="#bcd83a"/><text x="1059" y="965" font-size="28">antioxidant activity</text></g>
<g id="n-lipid-peroxidation"><circle cx="447" cy="1085" r="17" fill="#f0d81e"/><text x="447" y="1095" font-size="27">lipid-peroxidation</text></g>
<g id="n-down-regulation"><circle cx="428" cy="150" r="13" fill="#55cc55"/><text x="425" y="160" font-size="27">down-regulation</text></g>
<g id="n-breast-cancer"><circle cx="839" cy="105" r="12" fill="#1fa9b0"/><text x="838" y="115" font-size="27">breast-cancer</text></g>
<g id="n-angiogenesis"><circle cx="803" cy="208" r="8" fill="#2cc47a"/><text x="802" y="217" font-size="26">angiogenesis</text></g>
<g id="n-mechanisms"><circle cx="658" cy="722" r="14" fill="#7d73bf"/><text x="659" y="731" font-size="26">mechanisms</text></g>
<g id="n-green-557"><circle cx="557" cy="730" r="12" fill="#3fc75c"/></g>
<g id="n-mechanism"><circle cx="918" cy="822" r="13" fill="#2f8fb5"/><text x="920" y="831" font-size="26">mechanism</text></g>
<g id="n-model"><circle cx="770" cy="771" r="12" fill="#7b72be"/><text x="770" y="780" font-size="26">model</text></g>
<g id="n-protein"><circle cx="895" cy="717" r="14" fill="#18bc8f"/><text x="896" y="726" font-size="26">protein</text></g>
<g id="n-derivatives"><circle cx="1128" cy="882" r="14" fill="#7d73bf"/><text x="1129" y="891" font-size="26">derivatives</text></g>
<g id="n-analogs"><circle cx="1090" cy="808" r="9" fill="#8781c8"/><text x="1088" y="817" font-size="26">analogs</text></g>
<g id="n-degradation"><circle cx="1222" cy="815" r="10" fill="#1db0b0"/><text x="1221" y="823" font-size="25">degradation</text></g>
<g id="n-longa"><circle cx="973" cy="1018" r="12" fill="#14b0a0"/><text x="974" y="1027" font-size="26">longa</text></g>
<g id="n-acid"><circle cx="1062" cy="1043" r="13" fill="#14aaa8"/><text x="1060" y="1052" font-size="26">acid</text></g>
<g id="n-rat"><circle cx="624" cy="948" r="12" fill="#7ecf3a"/><text x="625" y="958" font-size="26">rat</text></g>
<g id="n-toxicity"><circle cx="790" cy="1125" r="11" fill="#7b78c0"/><text x="790" y="1134" font-size="26">toxicity</text></g>
<g id="n-turmeric"><circle cx="903" cy="1106" r="12" fill="#5d86c0"/><text x="903" y="1115" font-size="26">turmeric</text></g>
<g id="n-pathway"><circle cx="493" cy="413" r="16" fill="#7468b4"/><text x="494" y="421" font-size="26">pathway</text></g>
<g id="n-kappa-b"><circle cx="676" cy="447" r="6" fill="#1aa8a8"/><text x="677" y="456" font-size="25">kappa-b</text></g>
<g id="n-death"><circle cx="497" cy="313" r="9" fill="#3f7fb7"/><text x="497" y="322" font-size="25">death</text></g>
<g id="n-signaling-pathways"><circle cx="298" cy="296" r="9" fill="#16b2a8"/><text x="298" y="305" font-size="25">signaling pathways</text></g>
<g id="n-suppression"><circle cx="327" cy="204" r="9" fill="#b9d930"/><text x="327" y="212" font-size="25">suppression</text></g>
<g id="n-purple-505"><circle cx="505" cy="36" r="9" fill="#8781c8"/></g>
<g id="n-pancreatic-cancer"><circle cx="657" cy="28" r="7" fill="#30cc78"/><text x="660" y="37" font-size="25">pancreatic-cancer</text></g>
<g id="n-purple-714"><circle cx="714" cy="88" r="9" fill="#8781c8"/></g>
<g id="n-yellow-587"><circle cx="587" cy="136" r="9" fill="#f5de1a"/></g>
<g id="n-yellow-507"><circle cx="507" cy="181" r="14" fill="#f5de1a"/></g>
<g id="n-prostate-cancer"><circle cx="733" cy="155" r="9" fill="#b8d930"/><text x="733" y="164" font-size="25">prostate-cancer</text></g>
<g id="n-yellow-642"><circle cx="642" cy="179" r="11" fill="#f5de1a"/></g>
<g id="n-purple-900"><circle cx="900" cy="215" r="9" fill="#8781c8"/></g>
<g id="n-chemotherapy"><circle cx="1001" cy="199" r="9" fill="#4a86bd"/><text x="1001" y="207" font-size="25">chemotherapy</text></g>
<g id="n-doxorubicin"><circle cx="1218" cy="210" r="9" fill="#8781c8"/><text x="1218" y="219" font-size="25">doxorubicin</text></g>
<g id="n-purple-418"><circle cx="418" cy="271" r="13" fill="#8781c8"/></g>
<g id="n-blue-727"><circle cx="727" cy="278" r="17" fill="#3b86b5"/></g>
<g id="n-purple-1014"><circle cx="1014" cy="310" r="17" fill="#7d73bf"/></g>
<g id="n-cancer-therapy"><circle cx="1198" cy="321" r="7" fill="#8781c8"/><text x="1199" y="330" font-size="25">cancer-therapy</text></g>
<g id="n-vivo"><circle cx="1148" cy="380" r="8" fill="#8781c8"/><text x="1148" y="388" font-size="25">vivo</text></g>
<g id="n-purple-1415"><circle cx="1415" cy="362" r="10" fill="#8781c8"/></g>
<g id="n-purple-1440"><circle cx="1440" cy="467" r="12" fill="#8781c8"/></g>
<g id="n-chitosan"><circle cx="1508" cy="545" r="10" fill="#7d73bf"/><text x="1506" y="553" font-size="25">chitosan</text></g>
<g id="n-pharmacokinetics"><circle cx="1140" cy="517" r="8" fill="#2fc878"/><text x="1139" y="525" font-size="25">pharmacokinetics</text></g>
<g id="n-green-983"><circle cx="983" cy="440" r="11" fill="#1ec68a"/></g>
<g id="n-purple-1061"><circle cx="1061" cy="443" r="9" fill="#8781c8"/></g>
<g id="n-purple-1074"><circle cx="1074" cy="585" r="15" fill="#8781c8"/></g>
<g id="n-blue-1343"><circle cx="1343" cy="570" r="11" fill="#4688bd"/></g>
<g id="n-systems"><circle cx="1412" cy="615" r="7" fill="#8781c8"/><text x="1415" y="624" font-size="25">systems</text></g>
<g id="n-purple-995"><circle cx="995" cy="618" r="9" fill="#8781c8"/></g>
<g id="n-purple-1526"><circle cx="1526" cy="681" r="11" fill="#8781c8"/></g>
<g id="n-solubility"><circle cx="1400" cy="710" r="11" fill="#7d73bf"/><text x="1401" y="719" font-size="25">solubility</text></g>
<g id="n-agents"><circle cx="1090" cy="692" r="9" fill="#8781c8"/><text x="1091" y="700" font-size="25">agents</text></g>
<g id="n-system"><circle cx="1200" cy="688" r="7" fill="#8781c8"/><text x="1201" y="696" font-size="25">system</text></g>
<g id="n-purple-1020"><circle cx="1020" cy="712" r="10" fill="#8781c8"/></g>
<g id="n-design"><circle cx="1265" cy="740" r="11" fill="#7d73bf"/><text x="1265" y="749" font-size="25">design</text></g>
<g id="n-purple-1016"><circle cx="1016" cy="816" r="9" fill="#8781c8"/></g>
<g id="n-green-803"><circle cx="803" cy="848" r="12" fill="#16bf7d"/></g>
<g id="n-fluorescence"><circle cx="1342" cy="894" r="9" fill="#8781c8"/><text x="1342" y="903" font-size="25">fluorescence</text></g>
<g id="n-quercetin"><circle cx="658" cy="836" r="5" fill="#3a90b8"/><text x="658" y="845" font-size="25">quercetin</text></g>
<g id="n-blue-577"><circle cx="577" cy="880" r="14" fill="#3a82b2"/></g>
<g id="n-polyphenols"><circle cx="720" cy="882" r="6" fill="#9ad43a"/><text x="720" y="891" font-size="25">polyphenols</text></g>
<g id="n-blue-945"><circle cx="945" cy="952" r="14" fill="#3b77b0"/></g>
<g id="n-teal-1189"><circle cx="1189" cy="946" r="12" fill="#17b8a6"/></g>
<g id="n-glutathione"><circle cx="485" cy="982" r="6" fill="#8ed43e"/><text x="483" y="991" font-size="25">glutathione</text></g>
<g id="n-purple-393"><circle cx="393" cy="961" r="9" fill="#8781c8"/></g>
<g id="n-injury"><circle cx="316" cy="1043" r="9" fill="#8781c8"/><text x="317" y="1052" font-size="25">injury</text></g>
<g id="n-purple-614"><circle cx="614" cy="1030" r="20" fill="#7d73bf"/></g>
<g id="n-blue-866"><circle cx="866" cy="1035" r="11" fill="#3d86b8"/></g>
<g id="n-yellowgreen-625"><circle cx="625" cy="1110" r="13" fill="#c8dc30"/></g>
<g id="n-yellow-730"><circle cx="730" cy="975" r="10" fill="#f5de1a"/></g>
<g id="n-liver"><circle cx="497" cy="1138" r="9" fill="#1ca8b0"/><text x="498" y="1147" font-size="25">liver</text></g>
<g id="n-brain"><circle cx="695" cy="1178" r="8" fill="#3d86b8"/><text x="695" y="1187" font-size="25">brain</text></g>
<g id="n-damage"><circle cx="545" cy="1194" r="9" fill="#2a9ab5"/><text x="544" y="1203" font-size="25">damage</text></g>
<g id="n-yellow-226"><circle cx="226" cy="784" r="12" fill="#f5de1a"/></g>
<g id="n-yellowgreen-291"><circle cx="291" cy="869" r="10" fill="#b9d930"/></g>
<g id="n-yellow-374"><circle cx="374" cy="391" r="10" fill="#f5de1a"/></g>
<g id="n-yellow-762"><circle cx="762" cy="376" r="9" fill="#f5de1a"/></g>
<g id="n-yellow-528"><circle cx="528" cy="516" r="13" fill="#f2da1e"/></g>
<g id="n-yellow-714"><circle cx="714" cy="552" r="9" fill="#f5de1a"/></g>
<g id="n-yellow-490"><circle cx="490" cy="613" r="9" fill="#f5de1a"/></g>
<g id="n-green-389"><circle cx="389" cy="577" r="13" fill="#66cc55"/></g>
<g id="n-green-652"><circle cx="652" cy="626" r="8" fill="#22c47a"/></g>
<g id="n-yellow-592"><circle cx="592" cy="452" r="13" fill="#f2da1e"/></g>
<g id="n-tumor-necrosis-factor"><circle cx="133" cy="625" r="6" fill="#f5de1a"/><text x="136" y="634" font-size="25">tumor-necrosis-factor</text></g>
<g id="n-tnf-alpha"><circle cx="157" cy="728" r="8" fill="#f5de1a"/><text x="158" y="737" font-size="25">tnf-alpha</text></g>
<g id="n-dna-damage"><circle cx="408" cy="693" r="8" fill="#3f7fb7"/><text x="408" y="702" font-size="25">dna-damage</text></g>
</g>
<g id="legend">
<rect x="775" y="1170" width="687" height="105" rx="20" fill="#fff" stroke="#d4d4d4" stroke-width="2"/>
<rect x="797" y="1188" width="641" height="35" fill="url(#lg)" stroke="#888" stroke-width="2"/>
<g stroke="#777" stroke-width="1.5">
<line x1="828" y1="1210" x2="828" y2="1233"/>
<line x1="973" y1="1210" x2="973" y2="1233"/>
<line x1="1118" y1="1210" x2="1118" y2="1233"/>
<line x1="1262" y1="1210" x2="1262" y2="1233"/>
<line x1="1407" y1="1210" x2="1407" y2="1233"/>
</g>
<text x="828" y="1263">20</text>
<text x="973" y="1263">25</text>
<text x="1118" y="1263">30</text>
<text x="1262" y="1263">35</text>
<text x="1407" y="1263">40</text>
</g>
</g>
</svg>
